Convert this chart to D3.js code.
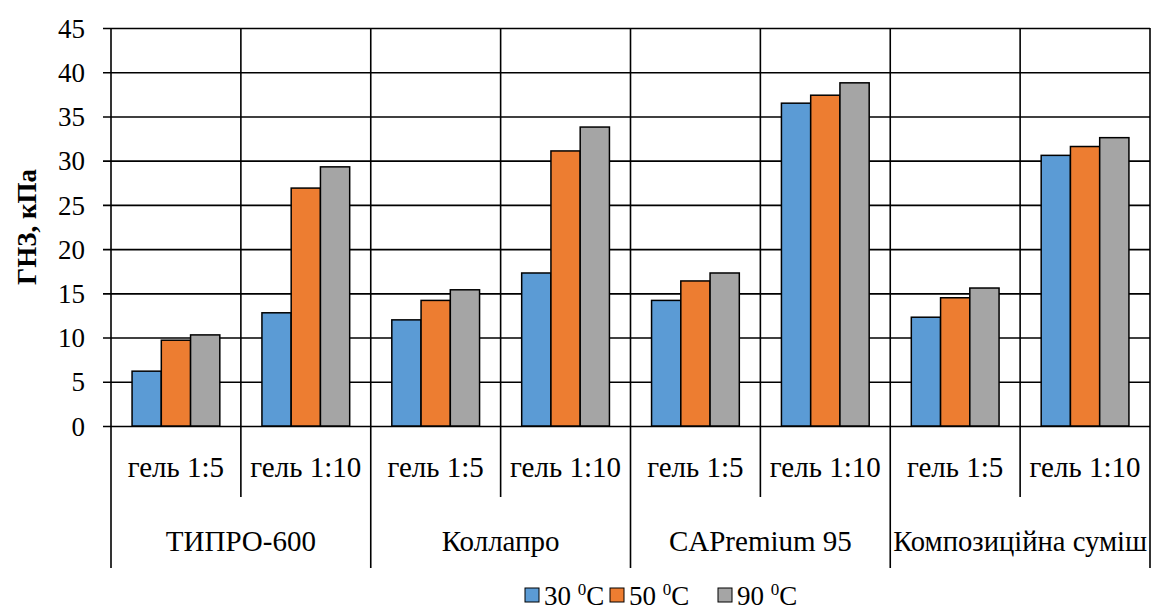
<!DOCTYPE html>
<html>
<head>
<meta charset="utf-8">
<script src="https://cdn.jsdelivr.net/npm/d3@7"></script>
<style>
  body { margin: 0; background: #fff; }
  svg { display: block; }
</style>
</head>
<body>
<svg width="1153" height="612"></svg>
<script>
const groups = ["ТИПРО-600", "Коллапро", "CAPremium 95", "Композиційна суміш"];
const gels = ["гель 1:5", "гель 1:10"];
const seriesNames = ["30", "50", "90"];
const seriesColors = ["#5b9bd5", "#ed7d31", "#a5a5a5"];

// values per subcategory, in order group x gel
const t30 = [6.2, 12.8, 12.0, 17.3, 14.2, 36.5, 12.3, 30.6];
const t50 = [9.7, 26.9, 14.2, 31.1, 16.4, 37.4, 14.5, 31.6];
const t90 = [10.3, 29.3, 15.4, 33.8, 17.3, 38.8, 15.6, 32.6];
const seriesValues = [t30, t50, t90];

const yMax = 45;
const serif = '"Liberation Serif", "Times New Roman", serif';

const svg = d3.select("svg");
const plotLeft = 111, plotRight = 1150, plotTop = 28, plotBottom = 426;
const subBottom = 497, groupBottom = 568;
const lineW = 1.6;

const cats = [];
groups.forEach((g, gi) => gels.forEach((s, si) => cats.push({ group: g, gel: s, key: gi + "|" + si })));

const x0 = d3.scaleBand()
  .domain(cats.map(d => d.key))
  .range([plotLeft, plotRight])
  .padding(0);

const x1 = d3.scaleBand()
  .domain(seriesNames)
  .range([0, x0.bandwidth()])
  .paddingInner(0)
  .paddingOuter(0.72);

const y = d3.scaleLinear().domain([0, yMax]).range([plotBottom, plotTop]);

// horizontal grid + tick labels (axis sits at right edge so the ticks run across)
const yAxis = svg.append("g")
  .attr("transform", `translate(${plotRight},0)`)
  .call(d3.axisLeft(y).ticks(10).tickSize(plotRight - 103).tickPadding(18));

yAxis.select(".domain").remove();
yAxis.selectAll(".tick line").attr("stroke", "#000").attr("stroke-width", lineW);
yAxis.selectAll(".tick text")
  .style("font-family", serif)
  .style("font-size", "27px")
  .attr("fill", "#000")
  .attr("dy", "0.34em");

// vertical separators
const bounds = cats.map(d => x0(d.key)).concat([plotRight]);
svg.append("g")
  .selectAll("line")
  .data(bounds)
  .join("line")
  .attr("x1", d => d)
  .attr("x2", d => d)
  .attr("y1", plotTop)
  .attr("y2", (d, i) => i % 2 === 0 ? groupBottom : subBottom)
  .attr("stroke", "#000")
  .attr("stroke-width", lineW);

// bars
const barG = svg.append("g");
seriesNames.forEach((s, si) => {
  barG.append("g")
    .selectAll("rect")
    .data(cats.map((c, ci) => ({ key: c.key, v: seriesValues[si][ci] })))
    .join("rect")
    .attr("x", d => x0(d.key) + x1(s))
    .attr("y", d => y(d.v))
    .attr("width", x1.bandwidth())
    .attr("height", d => y(0) - y(d.v))
    .attr("fill", seriesColors[si])
    .attr("stroke", "#000")
    .attr("stroke-width", 1.5);
});

// category labels
svg.append("g")
  .selectAll("text")
  .data(cats)
  .join("text")
  .attr("text-anchor", "middle")
  .style("font-family", serif)
  .style("font-size", "29px")
  .attr("x", d => x0(d.key) + x0.bandwidth() / 2)
  .attr("y", 477)
  .text(d => d.gel);

svg.append("g")
  .selectAll("text")
  .data(groups)
  .join("text")
  .attr("text-anchor", "middle")
  .style("font-family", serif)
  .style("font-size", "29px")
  .attr("textLength", d => d === "Композиційна суміш" ? 254 : null)
  .attr("lengthAdjust", "spacingAndGlyphs")
  .attr("x", (d, i) => x0(i + "|0") + x0.bandwidth())
  .attr("y", 551)
  .text(d => d);

// y axis title
svg.append("text")
  .attr("text-anchor", "middle")
  .style("font-family", serif)
  .style("font-size", "27px")
  .style("font-weight", "bold")
  .attr("transform", `translate(36,${(plotTop + plotBottom) / 2}) rotate(-90)`)
  .text("ГНЗ, кПа");

// legend
const legendX = [525, 610, 718];
const legend = svg.append("g");
seriesNames.forEach((s, i) => {
  const g = legend.append("g").attr("transform", `translate(${legendX[i]},588)`);
  g.append("rect")
    .attr("width", 14)
    .attr("height", 14)
    .attr("fill", seriesColors[i])
    .attr("stroke", "#000")
    .attr("stroke-width", 1);
  const t = g.append("text")
    .attr("x", 19)
    .attr("y", 17)
    .style("font-family", serif)
    .style("font-size", "27px");
  t.append("tspan").text(s + " ");
  t.append("tspan").style("font-size", "17px").attr("dy", -10).text("0");
  t.append("tspan").attr("dy", 10).text("C");
});
</script>
</body>
</html>
